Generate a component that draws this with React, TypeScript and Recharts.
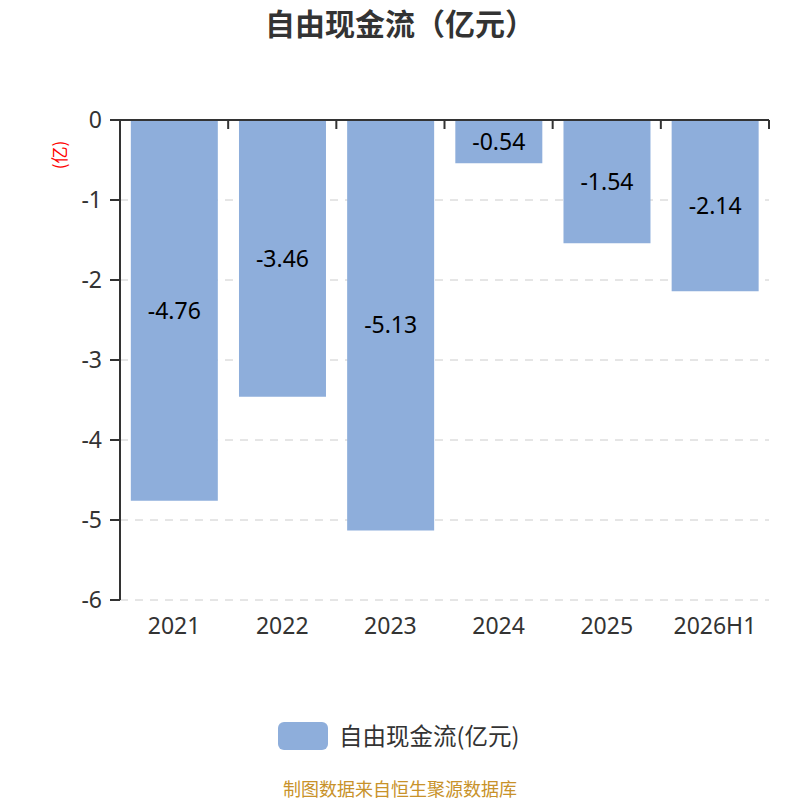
import React from "react";
import { BarChart, Bar, XAxis, YAxis, CartesianGrid, LabelList } from "recharts";

const categories = ["2021", "2022", "2023", "2024", "2025", "2026H1"];
const values = [-4.76, -3.46, -5.13, -0.54, -1.54, -2.14];
const yTicks = [0, -1, -2, -3, -4, -5, -6];
const boundaryTicks = [0, 1, 2, 3, 4, 5, 6];

const data = categories.map((c, i) => ({ name: c, idx: i + 0.5, value: values[i] }));

const FONT = "'Noto Sans CJK SC', 'Noto Sans', sans-serif";
const NUMFONT = "'Noto Sans', 'Noto Sans CJK SC', sans-serif";

const EmptyTick = () => <g />;

export default function App() {
  return (
    <div style={{ position: "absolute", left: 0, top: 0, width: 800, height: 800, background: "#fff", fontFamily: FONT, overflow: "hidden" }}>
      <div style={{ position: "absolute", left: 0, top: 2, width: 800, textAlign: "center", fontSize: 30, fontWeight: "bold", color: "#333", lineHeight: "40px" }}>
        自由现金流（亿元）
      </div>
      <div style={{ position: "absolute", left: 59, top: 155, transform: "translate(-50%, -50%) rotate(-90deg)", color: "#ff0000", fontSize: 17, whiteSpace: "nowrap", lineHeight: "20px" }}>
        (亿)
      </div>
      <BarChart width={800} height={800} data={data} margin={{ top: 120, right: 31, bottom: 160, left: 0 }}>
        <CartesianGrid xAxisId="cat" yAxisId="y" vertical={false} stroke="#cccccc" strokeDasharray="8 7" />
        <XAxis
          xAxisId="top"
          orientation="top"
          type="number"
          dataKey="idx"
          domain={[0, 6]}
          ticks={boundaryTicks}
          height={1}
          mirror
          tick={EmptyTick}
          tickSize={9}
          axisLine={{ stroke: "#333", strokeWidth: 2 }}
          tickLine={{ stroke: "#333", strokeWidth: 2 }}
          interval={0}
        />
        <XAxis
          xAxisId="cat"
          dataKey="name"
          orientation="bottom"
          height={40}
          axisLine={false}
          tickLine={false}
          tickSize={6}
          tickMargin={12}
          tick={{ fontSize: 23, fill: "#333", fontFamily: NUMFONT }}
          interval={0}
        />
        <YAxis
          yAxisId="y"
          type="number"
          domain={[-6, 0]}
          ticks={yTicks}
          width={120}
          tickSize={10}
          tickMargin={8}
          axisLine={{ stroke: "#333", strokeWidth: 2 }}
          tickLine={{ stroke: "#333", strokeWidth: 2 }}
          tick={{ fontSize: 23, fill: "#333", fontFamily: NUMFONT }}
          interval={0}
        />
        <Bar xAxisId="cat" yAxisId="y" dataKey="value" fill="#8eaedb" barCategoryGap="10%" isAnimationActive={false}>
          <LabelList dataKey="value" position="center" fill="#000" fontSize={23} fontFamily={NUMFONT} />
        </Bar>
      </BarChart>
      <div style={{ position: "absolute", left: 278, top: 722, width: 50, height: 28, borderRadius: 6, background: "#8eaedb" }} />
      <div style={{ position: "absolute", left: 339, top: 719, fontSize: 23.5, color: "#333", lineHeight: "32px", whiteSpace: "nowrap" }}>
        自由现金流(亿元)
      </div>
      <div style={{ position: "absolute", left: 0, top: 777, width: 800, textAlign: "center", fontSize: 18, color: "#c8922a", lineHeight: "22px" }}>
        制图数据来自恒生聚源数据库
      </div>
    </div>
  );
}
